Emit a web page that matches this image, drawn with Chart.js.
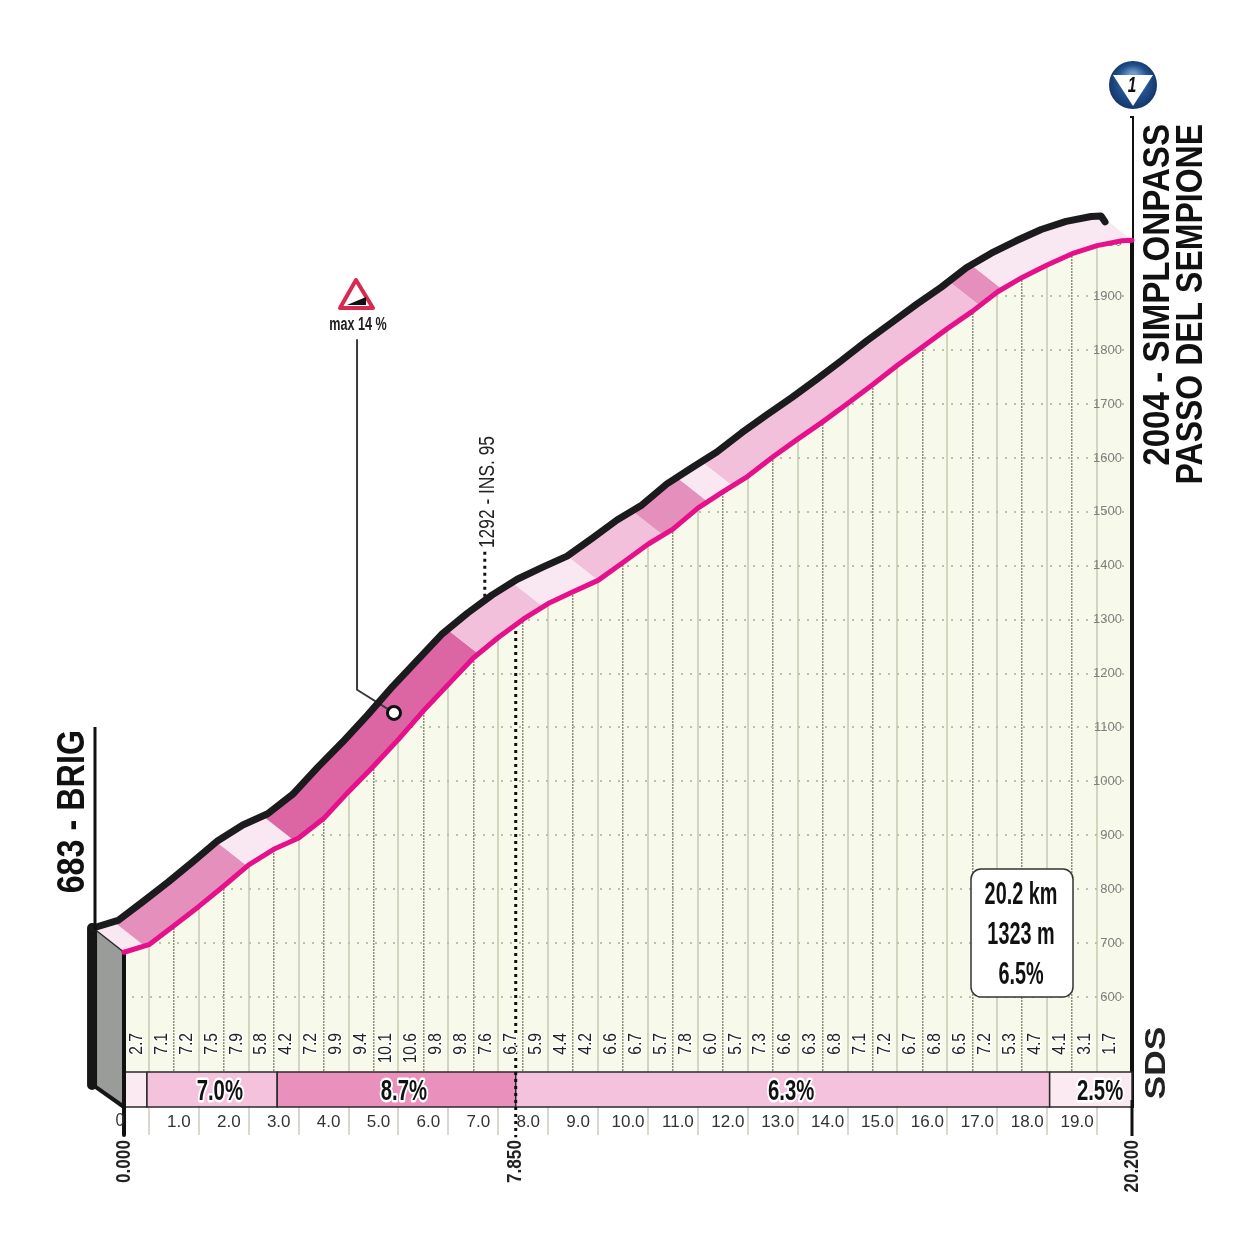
<!DOCTYPE html>
<html>
<head>
<meta charset="utf-8">
<title>Simplonpass</title>
<script src="https://cdn.jsdelivr.net/npm/chart.js@4/dist/chart.umd.min.js"></script>
<style>
    html, body { margin: 0; padding: 0; background: #fff; }
    canvas { display: block; }
</style>
</head>
<body>
<canvas id="profile" width="1248" height="1255"></canvas>
<script>
// Climb profile: km and height at every half kilometre
const profileKm = [0, 0.5, 1, 1.5, 2, 2.5, 3, 3.5, 4, 4.5, 5, 5.5, 6, 6.5, 7, 7.5, 8, 8.5, 9, 9.5, 10,
    10.5, 11, 11.5, 12, 12.5, 13, 13.5, 14, 14.5, 15, 15.5, 16, 16.5, 17, 17.5, 18, 18.5, 19, 19.5, 20, 20.2];
const profileElev = [683, 697, 732, 768, 806, 845, 874, 895, 931, 981, 1028, 1078, 1131, 1180, 1229, 1267, 1301, 1330, 1352, 1373, 1406,
    1440, 1468, 1507, 1537, 1566, 1602, 1635, 1667, 1701, 1736, 1772, 1806, 1840, 1872, 1908, 1935, 1958, 1979, 1994, 2003, 2004];

// Gradient written over each half kilometre
const gradients = ['2.7', '7.1', '7.2', '7.5', '7.9', '5.8', '4.2', '7.2', '9.9', '9.4', '10.1', '10.6', '9.8', '9.8', '7.6', '6.7',
    '5.9', '4.4', '4.2', '6.6', '6.7', '5.7', '7.8', '6.0', '5.7', '7.3', '6.6', '6.3', '6.8', '7.1', '7.2', '6.7', '6.8', '6.5',
    '7.2', '5.3', '4.7', '4.1', '3.1', '1.7'];
const gradientKm = [0.25, 0.75, 1.25, 1.75, 2.25, 2.75, 3.25, 3.75, 4.25, 4.75, 5.25, 5.75, 6.25, 6.75, 7.25, 7.75,
    8.25, 8.75, 9.25, 9.75, 10.25, 10.75, 11.25, 11.75, 12.25, 12.75, 13.25, 13.75, 14.25, 14.75, 15.25, 15.75, 16.25, 16.75,
    17.25, 17.75, 18.25, 18.75, 19.25, 19.75];

// Ribbon colour changes
const bandKm = [0, 0.42, 2.47, 3.4, 7.1, 8.4, 9.5, 10.8, 11.7, 12.2, 17.15, 17.6, 20.2];
const bandElev = [683, 694, 843, 891, 1237, 1324, 1373, 1457, 1519, 1548, 1883, 1913, 2004];
const bandColors = ['#f9e7f1', '#e48fbc', '#f9e7f1', '#dc66a4', '#f3c0dc', '#f9e7f1', '#f3c0dc', '#e48fbc', '#f9e7f1', '#f3c0dc', '#e48fbc', '#f9e7f1'];

// Average gradient bar
const barKm = [0, 0.46, 3.07, 7.85, 18.55, 20.2];
const barColors = ['#fbeaf2', '#f5c2de', '#ea90bd', '#f5c2de', '#fbeaf2'];
const barLabels = ['7.0%', '8.7%', '6.3%', '2.5%'];
const barLabelKm = [1.92, 5.61, 13.37, 19.56];

// Axes
const kmTicks = [1, 2, 3, 4, 5, 6, 7, 8, 9, 10, 11, 12, 13, 14, 15, 16, 17, 18, 19];
const halfKmTicks = [0.5, 1.5, 2.5, 3.5, 4.5, 5.5, 6.5, 7.5, 8.5, 9.5, 10.5, 11.5, 12.5, 13.5, 14.5, 15.5, 16.5, 17.5, 18.5, 19.5];
const elevTicks = [600, 700, 800, 900, 1000, 1100, 1200, 1300, 1400, 1500, 1600, 1700, 1800, 1900, 2000];
const distanceMarks = ['0.000', '7.850', '20.200'];
const distanceMarkKm = [0, 7.85, 20.2];
const summary = ['20.2 km', '1323 m', '6.5%'];

// Steepest point and intermediate point
const steepKm = [4.67, 4.67, 5.41];
const steepElev = [1819, 1170, 1127];
const interKm = [7.85, 7.85];
const interElev = [1292, 340];
const topDotsKm = [7.23, 7.23];
const topDotsElev = [1426, 1340];

// The ribbon's upper edge sits up and to the left of the road
const edgeKm = -0.62;
const edgeElev = 45;

const xMin = -1.2826, xMax = 20.2, yMin = 395.9, yMax = 2230.8;
const barTop = 460.9;
const blockBottom = 436.7;

const sans = '"Liberation Sans", sans-serif';

function xy(xs, ys) {
    return xs.map((x, i) => ({ x: x, y: ys[i] }));
}

function line(points, color, width, dash) {
    return {
        type: 'scatter', showLine: true, data: points, borderColor: color, borderWidth: width,
        borderDash: dash || [], pointRadius: 0, borderCapStyle: dash ? 'butt' : 'round', borderJoinStyle: 'round', clip: false
    };
}

function shape(points, color, edge, edgeWidth) {
    return {
        type: 'scatter', showLine: true, data: points.concat([points[0]]), fill: 'shape', backgroundColor: color,
        borderColor: edge || 'transparent', borderWidth: edgeWidth || 0, pointRadius: 0, clip: false
    };
}

const road = xy(profileKm, profileElev);
const topEdge = road.map(p => ({ x: p.x + edgeKm, y: p.y + edgeElev }));

// everything above the road is white
const mask = [{ x: xMin, y: yMin }, { x: 0, y: yMin }].concat(road, [{ x: xMax, y: yMax }, { x: xMin, y: yMax }]);

const paintOrder = [];
paintOrder.push(shape(mask, '#ffffff'));

barColors.forEach((color, i) => {
    paintOrder.push(shape(xy([barKm[i], barKm[i + 1], barKm[i + 1], barKm[i]], [barTop, barTop, yMin, yMin]), color, '#2a2a2a', 1.5));
});

bandColors.forEach((color, i) => {
    const lo = { x: bandKm[i], y: bandElev[i] };
    const hi = { x: bandKm[i + 1], y: bandElev[i + 1] };
    const inner = road.filter(p => p.x > lo.x && p.x < hi.x);
    const lower = [lo].concat(inner, [hi]);
    const upper = lower.slice().reverse().map(p => ({ x: p.x + edgeKm, y: p.y + edgeElev }));
    paintOrder.push(shape(lower.concat(upper), color));
});

// grey wall at the start
const wallTop = topEdge[0];
paintOrder.push(shape([wallTop, road[0], { x: 0, y: yMin }, { x: wallTop.x, y: blockBottom }], '#9a9c9a'));
paintOrder.push(line([{ x: wallTop.x - 0.02, y: wallTop.y }, { x: wallTop.x - 0.02, y: blockBottom }], '#161616', 10));
paintOrder.push(line([{ x: wallTop.x, y: blockBottom }, { x: 0, y: yMin }], '#161616', 4));
paintOrder.push(line([wallTop, road[0]], '#2a2a2a', 1.5));
paintOrder.push(line([{ x: 0, y: 683 }, { x: 0, y: yMin - 52 }], '#111111', 4));

paintOrder.push(line(xy(interKm, interElev), '#111111', 3, [3, 4]));
paintOrder.push(line(xy(topDotsKm, topDotsElev), '#111111', 3, [3, 4]));
paintOrder.push(line(xy(steepKm, steepElev), '#3a3a3a', 2));
// small hook where the upper edge stops short of the summit
paintOrder.push(line(topEdge.concat([{ x: 19.66, y: 2038 }]), '#1b1b1d', 7));
paintOrder.push(line(road, '#e5108a', 5));
paintOrder.push({
    type: 'scatter', data: [{ x: 5.41, y: 1127 }], pointRadius: 6.5, pointBorderWidth: 3,
    pointBackgroundColor: '#ffffff', pointBorderColor: '#111111', clip: false
});

// Chart.js paints the first dataset last
const datasets = paintOrder.slice().reverse();

function write(ctx, text, x, y, o) {
    ctx.save();
    ctx.translate(x, y);
    if (o.rotate) ctx.rotate(-Math.PI / 2);
    ctx.scale(o.squeeze || 1, 1);
    ctx.font = o.font;
    ctx.textAlign = o.align || 'center';
    ctx.textBaseline = 'middle';
    if (o.halo) {
        ctx.strokeStyle = '#ffffff';
        ctx.lineWidth = o.halo;
        ctx.lineJoin = 'round';
        ctx.strokeText(text, 0, 0);
    }
    ctx.fillStyle = o.color || '#111111';
    ctx.fillText(text, 0, 0);
    ctx.restore();
}

const paperTint = {
    id: 'paperTint',
    beforeDraw(chart) {
        const a = chart.chartArea;
        const left = chart.scales.x.getPixelForValue(0);
        chart.ctx.fillStyle = '#f7f9ea';
        chart.ctx.fillRect(left, a.top, a.right - left, a.bottom - a.top);
    }
};

const extras = {
    id: 'extras',
    afterDraw(chart) {
        const ctx = chart.ctx;
        const x = chart.scales.x;

        gradients.forEach((g, i) => {
            write(ctx, g, x.getPixelForValue(gradientKm[i]), 1033, { rotate: true, align: 'right', font: '19px ' + sans, squeeze: 0.82, halo: 3, color: '#222222' });
        });
        barLabels.forEach((t, i) => {
            write(ctx, t, x.getPixelForValue(barLabelKm[i]), 1092, { font: 'bold 29px ' + sans, squeeze: 0.7, halo: 5 });
        });
        distanceMarks.forEach((t, i) => {
            write(ctx, t, x.getPixelForValue(distanceMarkKm[i]), 1140, { rotate: true, align: 'right', font: 'bold 20px ' + sans, squeeze: 0.86, color: '#222222' });
        });
        write(ctx, '0', 120, 1121, { font: '19px ' + sans, squeeze: 0.85, color: '#333333' });

        // end posts and the start / finish names
        ctx.strokeStyle = '#111111';
        ctx.lineWidth = 3;
        ctx.beginPath();
        ctx.moveTo(95, 727);
        ctx.lineTo(95, 930);
        ctx.moveTo(1132, 1100);
        ctx.lineTo(1132, 1136);
        ctx.stroke();

        write(ctx, '683 - BRIG', 74, 730, { rotate: true, align: 'right', font: 'bold 38px ' + sans, squeeze: 0.85 });
        write(ctx, '2004 - SIMPLONPASS', 1159, 124, { rotate: true, align: 'right', font: 'bold 36px ' + sans, squeeze: 0.92 });
        write(ctx, 'PASSO DEL SEMPIONE', 1192, 124, { rotate: true, align: 'right', font: 'bold 36px ' + sans, squeeze: 0.889 });
        write(ctx, '1292 - INS. 95', 488, 436, { rotate: true, align: 'right', font: '22px ' + sans, squeeze: 0.79, color: '#222222' });
        write(ctx, 'SDS', 1157, 1063, { rotate: true, font: 'bold 30px ' + sans, squeeze: 1.18, color: '#222222' });

        // steepness sign
        ctx.beginPath();
        ctx.moveTo(356, 280);
        ctx.lineTo(340, 308);
        ctx.lineTo(373, 308);
        ctx.closePath();
        ctx.fillStyle = '#ffffff';
        ctx.fill();
        ctx.strokeStyle = '#d62a50';
        ctx.lineWidth = 4;
        ctx.lineJoin = 'round';
        ctx.stroke();
        ctx.beginPath();
        ctx.moveTo(347, 305);
        ctx.lineTo(366, 305);
        ctx.lineTo(366, 297);
        ctx.closePath();
        ctx.fillStyle = '#111111';
        ctx.fill();
        write(ctx, 'max 14 %', 358, 325, { font: 'bold 18px ' + sans, squeeze: 0.7, color: '#222222' });

        // summary box
        ctx.beginPath();
        ctx.roundRect(971, 869, 102, 128, 10);
        ctx.fillStyle = '#ffffff';
        ctx.fill();
        ctx.strokeStyle = '#333333';
        ctx.lineWidth = 1.5;
        ctx.stroke();
        summary.forEach((t, i) => {
            write(ctx, t, 1021, 895 + i * 40, { font: 'bold 32px ' + sans, squeeze: 0.62 });
        });

        // blue category badge
        const g = ctx.createRadialGradient(1133, 76, 4, 1133, 85, 25);
        g.addColorStop(0, '#6f9ccb');
        g.addColorStop(0.55, '#24528f');
        g.addColorStop(1, '#123468');
        ctx.beginPath();
        ctx.arc(1133, 85, 24, 0, Math.PI * 2);
        ctx.fillStyle = g;
        ctx.fill();
        ctx.beginPath();
        ctx.moveTo(1113, 75);
        ctx.lineTo(1153, 75);
        ctx.lineTo(1133, 106);
        ctx.closePath();
        ctx.fillStyle = '#ffffff';
        ctx.fill();
        write(ctx, '1', 1132, 86, { font: 'italic bold 22px ' + sans, squeeze: 0.7 });
    }
};

const chart = new Chart(document.getElementById('profile').getContext('2d'), {
    type: 'scatter',
    data: { datasets: datasets },
    plugins: [paperTint, extras],
    options: {
        responsive: false,
        animation: false,
        layout: { padding: { left: 60, top: 118, right: 116, bottom: 0 } },
        plugins: { legend: { display: false }, tooltip: { enabled: false } },
        scales: {
            x: {
                type: 'linear', position: 'bottom', min: xMin, max: xMax, weight: 2,
                afterBuildTicks: scale => { scale.ticks = kmTicks.map(v => ({ value: v })); },
                afterFit: scale => { scale.height = 148; },
                grid: { color: '#8b8f7c', lineWidth: 1.5, drawTicks: false },
                border: { display: false, dash: [2, 1] },
                ticks: {
                    autoSkip: false, maxRotation: 0, minRotation: 0, padding: 5, labelOffset: 5, color: '#333333',
                    font: { family: sans, size: 17 },
                    callback: v => v.toFixed(1)
                }
            },
            x2: {
                type: 'linear', position: 'bottom', min: xMin, max: xMax, weight: 1,
                afterBuildTicks: scale => { scale.ticks = halfKmTicks.map(v => ({ value: v })); },
                afterFit: scale => { scale.height = 0; },
                grid: { color: '#d2d5c0', lineWidth: 2, tickLength: 28, tickColor: '#d8d8d0', tickWidth: 2 },
                border: { display: false },
                ticks: { display: false }
            },
            y: {
                type: 'linear', position: 'right', min: yMin, max: yMax,
                afterBuildTicks: scale => { scale.ticks = elevTicks.map(v => ({ value: v })); },
                afterFit: scale => { scale.width = 0; },
                grid: { color: '#bcbfa9', lineWidth: 2, drawTicks: false },
                border: { color: '#111111', width: 4, dash: [2, 7] },
                ticks: {
                    mirror: true, padding: -10, color: '#7f7f7f', font: { family: sans, size: 13 },
                    callback: v => String(v)
                }
            }
        }
    }
});
</script>
</body>
</html>
